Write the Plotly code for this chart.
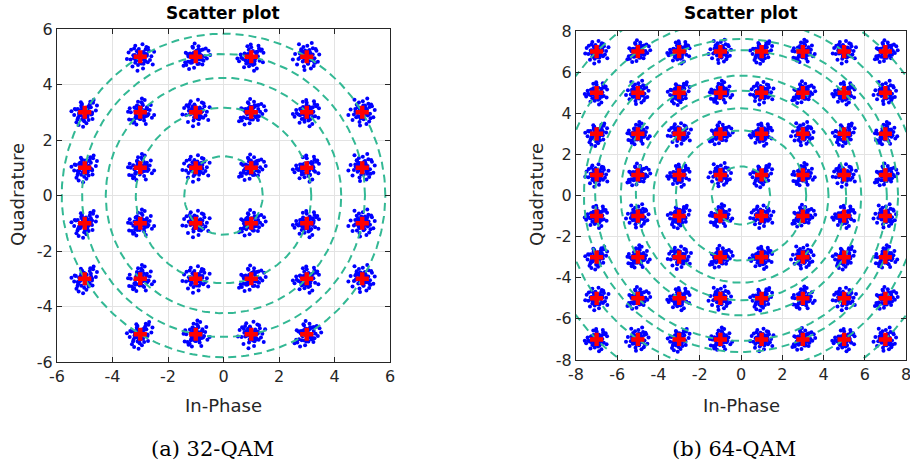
import numpy as np
import plotly.graph_objects as go

# ---------------- data ----------------
levels_32_I = [-5, -3, -1, 1, 3, 5]
levels_32_Q = [-5, -3, -1, 1, 3, 5]
levels_64 = [-7, -5, -3, -1, 1, 3, 5, 7]

# 32-QAM ideal points (cross constellation: corners removed)
qam32_I = []
qam32_Q = []
for q in levels_32_Q[::-1]:
    for i in levels_32_I:
        if abs(i) == 5 and abs(q) == 5:
            continue
        qam32_I.append(i)
        qam32_Q.append(q)

qam64_I = [i for q in levels_64[::-1] for i in levels_64]
qam64_Q = [q for q in levels_64[::-1] for i in levels_64]

# circle radii^2 (energy rings)
rings32_sq = [2, 10, 18, 26, 34]
rings64_sq = [2, 10, 18, 26, 34, 50, 58, 74, 98]

# hand-read noise offset patterns around an ideal point
patA_dx = [0.05, -0.12, 0.18, -0.25, 0.31, -0.08, 0.22, -0.35, 0.12, 0.40, -0.18, 0.02, -0.42, 0.27, -0.05,
           0.15, -0.28, 0.35, -0.15, 0.08, 0.50, -0.22, 0.10, -0.02, 0.20, -0.33, 0.28, -0.10, 0.45, -0.48,
           0.00, 0.12, -0.06, 0.24]
patA_dy = [0.10, 0.20, -0.15, 0.05, 0.22, -0.30, 0.35, -0.10, -0.25, 0.02, 0.40, -0.05, 0.15, -0.20, 0.28,
           0.12, -0.35, -0.12, -0.02, 0.45, 0.18, 0.30, -0.42, -0.18, 0.05, 0.25, 0.32, -0.50, -0.28, -0.08,
           0.00, -0.08, 0.14, 0.10]
patB_dx = [-0.05, 0.14, -0.20, 0.28, -0.32, 0.10, -0.24, 0.36, -0.10, -0.40, 0.18, 0.00, 0.44, -0.26, 0.06,
           -0.16, 0.30, -0.36, 0.16, -0.06, -0.52, 0.24, -0.12, 0.04, -0.18, 0.34, -0.28, 0.12, -0.46, 0.38,
           0.08, -0.14, 0.20, -0.02]
patB_dy = [-0.12, 0.08, 0.24, -0.18, 0.02, 0.32, -0.28, 0.14, 0.38, -0.06, -0.22, 0.18, -0.32, 0.26, -0.40,
           -0.10, 0.10, 0.30, -0.04, -0.26, 0.06, -0.44, 0.20, 0.48, 0.00, -0.30, -0.14, 0.36, 0.22, -0.20,
           0.04, -0.02, 0.12, 0.16]
patC_dx = [0.10, -0.06, 0.26, -0.30, 0.04, 0.34, -0.16, 0.20, -0.38, 0.08, -0.22, 0.42, -0.02, 0.16, -0.44,
           0.30, -0.12, 0.24, -0.26, 0.00, 0.14, -0.34, 0.38, -0.08, 0.50, -0.18, 0.06, -0.40, 0.22, -0.14,
           -0.04, 0.10, -0.10, 0.18]
patC_dy = [0.04, -0.20, 0.12, 0.28, -0.36, -0.08, 0.16, 0.42, -0.14, -0.30, 0.34, 0.20, 0.24, -0.44, -0.02,
           0.06, -0.24, -0.18, 0.38, 0.14, 0.30, 0.00, -0.26, -0.38, 0.10, 0.22, -0.50, 0.26, -0.10, 0.44,
           -0.06, 0.08, -0.12, 0.02]
patterns = [(patA_dx, patA_dy), (patB_dx, patB_dy), (patC_dx, patC_dy)]
variants = [(1, 1, 0), (-1, 1, 0), (1, -1, 1), (-1, -1, 0), (1, 1, 1), (-1, 1, 1), (1, -1, 0), (-1, -1, 1)]

ticks32 = [-6, -4, -2, 0, 2, 4, 6]
ticks64 = [-8, -6, -4, -2, 0, 2, 4, 6, 8]

title_text = "Scatter plot"
x_label = "In-Phase"
y_label = "Quadrature"
captions = ["(a) 32-QAM", "(b) 64-QAM"]


def add_pattern(xs, ys, i, q, dx, dy, var, spread, n=None):
    sx, sy, sw = var
    pairs = list(zip(dx, dy))
    if n is not None:
        pairs = pairs[:n]
    for a, b in pairs:
        if sw:
            a, b = b, a
        xs.append(i + sx * a * spread)
        ys.append(q + sy * b * spread)


def cloud(I, Q, spread):
    xs, ys = [], []
    for k, (i, q) in enumerate(zip(I, Q)):
        dx, dy = patterns[k % 3]
        add_pattern(xs, ys, i, q, dx, dy, variants[(k // 3 + k) % 8], spread)
        dx2, dy2 = patterns[(k + 1) % 3]
        add_pattern(xs, ys, i, q, dx2, dy2, variants[(k + 5) % 8], spread * 0.6, 18)
    return xs, ys


def ring_xy(rsq):
    t = np.linspace(0, 2 * np.pi, 400)
    r = np.sqrt(rsq)
    return list(r * np.cos(t)), list(r * np.sin(t))


BLUE = "#0000ff"
RED = "#ff0000"
GREEN = "#33b894"
AXC = "#262626"

fig = go.Figure()

for (I, Q, rings, spread, xa, ya) in [
    (qam32_I, qam32_Q, rings32_sq, 1.0, "x", "y"),
    (qam64_I, qam64_Q, rings64_sq, 1.15, "x2", "y2"),
]:
    xs, ys = cloud(I, Q, spread)
    fig.add_trace(go.Scatter(x=xs, y=ys, mode="markers", xaxis=xa, yaxis=ya,
                             marker=dict(color=BLUE, size=4, line=dict(width=0)),
                             showlegend=False, hoverinfo="skip"))
    for rsq in rings:
        cx, cy = ring_xy(rsq)
        fig.add_trace(go.Scatter(x=cx, y=cy, mode="lines", xaxis=xa, yaxis=ya,
                                 line=dict(color=GREEN, width=2, dash="8px,5px"),
                                 showlegend=False, hoverinfo="skip"))
    fig.add_trace(go.Scatter(x=I, y=Q, mode="markers", xaxis=xa, yaxis=ya,
                             marker=dict(color=RED, size=11, symbol="cross", line=dict(width=0)),
                             showlegend=False, hoverinfo="skip"))

W, H = 910, 465


def px_x(p):
    return p / W


def px_y(p):
    return 1 - p / H


axis_common = dict(showgrid=True, gridcolor="#e3e3e3", gridwidth=1, zeroline=False,
                   showline=True, linecolor=AXC, linewidth=1, mirror="ticks",
                   ticks="inside", ticklen=5, tickcolor=AXC, automargin=False,
                   ticklabeloverflow="allow",
                   tickfont=dict(family="DejaVu Sans", size=16, color=AXC))


def tt(vals):
    return [str(v) for v in vals]


fig.update_layout(
    width=W, height=H,
    margin=dict(l=0, r=0, t=0, b=0, autoexpand=False),
    paper_bgcolor="white", plot_bgcolor="white",
    xaxis=dict(domain=[px_x(57), px_x(390)], range=[-6, 6], tickvals=ticks32, ticktext=tt(ticks32),
               anchor="y", **axis_common),
    yaxis=dict(domain=[px_y(362), px_y(29)], range=[-6, 6], tickvals=ticks32, ticktext=tt(ticks32),
               anchor="x", **axis_common),
    xaxis2=dict(domain=[px_x(576), px_x(906)], range=[-8, 8], tickvals=ticks64, ticktext=tt(ticks64),
                anchor="y2", **axis_common),
    yaxis2=dict(domain=[px_y(360), px_y(31)], range=[-8, 8], tickvals=ticks64, ticktext=tt(ticks64),
                anchor="x2", **axis_common),
)

ann = []
for cx, cy_mid, lx in [(223, 195, 17), (741, 195, 536)]:
    ann.append(dict(text="<b>" + title_text + "</b>", x=px_x(cx), y=px_y(13), xref="paper", yref="paper",
                    showarrow=False, font=dict(family="DejaVu Sans", size=17, color="black"),
                    xanchor="center", yanchor="middle"))
    ann.append(dict(text=x_label, x=px_x(cx), y=px_y(405), xref="paper", yref="paper",
                    showarrow=False, font=dict(family="DejaVu Sans", size=18, color=AXC),
                    xanchor="center", yanchor="middle"))
    ann.append(dict(text=y_label, x=px_x(lx), y=px_y(cy_mid), xref="paper", yref="paper",
                    showarrow=False, textangle=-90, font=dict(family="DejaVu Sans", size=18, color=AXC),
                    xanchor="center", yanchor="middle"))
for cap, cap_x in zip(captions, [212, 734]):
    ann.append(dict(text=cap, x=px_x(cap_x), y=px_y(449), xref="paper", yref="paper",
                    showarrow=False, font=dict(family="DejaVu Serif", size=21, color="black"),
                    xanchor="center", yanchor="middle"))
fig.update_layout(annotations=ann)

fig.write_html("out.html", config={"displayModeBar": False},
               post_script="document.body.style.margin='0px';document.body.style.overflow='hidden';")
